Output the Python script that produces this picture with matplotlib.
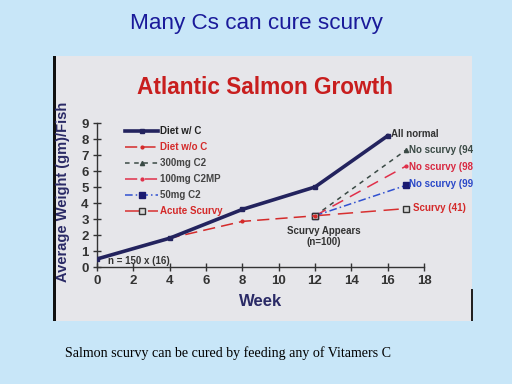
import matplotlib.pyplot as plt
from matplotlib.patches import Rectangle

weeks_c = [0, 4, 8, 12, 16]
diet_c = [0.5, 1.8, 3.6, 5.0, 8.2]
weeks_noc = [0, 4, 8, 12]
diet_noc = [0.5, 1.8, 2.85, 3.2]
weeks_cure = [12, 17]
c2_300 = [3.2, 7.3]
c2mp_100 = [3.2, 6.3]
c2_50 = [3.2, 5.1]
acute = [3.2, 3.65]

end_labels = ["All normal", "No scurvy (94", "No scurvy (98", "No scurvy (99", "Scurvy (41)"]

fig = plt.figure(figsize=(5.12, 3.84), dpi=100)
fig.patch.set_facecolor("#c8e6f8")

# scanned panel
fig.patches.append(Rectangle((53 / 512, 1 - 321 / 384), (472 - 53) / 512, (321 - 56) / 384,
                             transform=fig.transFigure, facecolor="#e6e6ea", edgecolor="none", zorder=-10))
fig.patches.append(Rectangle((53 / 512, 1 - 321 / 384), 3 / 512, (321 - 56) / 384,
                             transform=fig.transFigure, facecolor="#111111", edgecolor="none", zorder=-9))
fig.patches.append(Rectangle((471 / 512, 1 - 321 / 384), 1.5 / 512, 32 / 384,
                             transform=fig.transFigure, facecolor="#222222", edgecolor="none", zorder=-9))

fig.text(0.5, 1 - 24 / 384, "Many Cs can cure scurvy", ha="center", va="center",
         fontsize=16.2, color="#1a1a9a", family="Liberation Sans")
fig.text(265 / 512, 1 - 88 / 384, "Atlantic Salmon Growth", ha="center", va="center",
         fontsize=16.3, color="#c81e1e", fontweight="bold", family="Liberation Sans")
fig.text(65 / 512, 1 - 353 / 384, "Salmon scurvy can be cured by feeding any of Vitamers C",
         ha="left", va="center", fontsize=10.1, color="black", family="Liberation Serif")

ax = fig.add_axes([97 / 512, 1 - 267 / 384, (424 - 97) / 512, (267 - 123) / 384])
ax.set_facecolor("none")
ax.set_zorder(5)

ax.plot(weeks_c, diet_c, color="#23235e", lw=2.6, marker="s", ms=3.5, label="Diet w/ C", zorder=5)
ax.plot(weeks_noc, diet_noc, color="#d42a2a", lw=1.1, ls=(0, (8, 4)), marker="o", ms=2,
        label="Diet w/o C", zorder=4)
ax.plot(weeks_cure, c2_300, color="#3a4a45", lw=1.1, ls=(0, (3, 3)), marker="^", ms=3,
        label="300mg C2")
ax.plot(weeks_cure, c2mp_100, color="#e0304a", lw=1.1, ls=(0, (8, 5)), marker="o", ms=2,
        label="100mg C2MP")
ax.plot(weeks_cure, c2_50, color="#3050d0", lw=1.1, ls=(0, (5, 2, 1, 2)), marker="s", ms=4,
        mfc="#1a1a70", mec="#1a1a70", label="50mg C2")
ax.plot(weeks_cure, acute, color="#d83030", lw=1.1, ls=(0, (10, 5)), marker="s", ms=4,
        mfc="#d8d8d8", mec="#333333", label="Acute Scurvy")

ax.set_xlim(0, 18)
ax.set_ylim(0, 9)
ax.set_xticks(range(0, 19, 2))
ax.set_yticks(range(0, 10))
for s in ["top", "right"]:
    ax.spines[s].set_visible(False)
for s in ["left", "bottom"]:
    ax.spines[s].set_color("#333333")
    ax.spines[s].set_linewidth(1.0)
ax.tick_params(direction="inout", length=6, width=1, color="#333333",
               labelsize=9.5, labelcolor="#333333", pad=3)
for t in ax.get_xticklabels() + ax.get_yticklabels():
    t.set_fontweight("bold")
    t.set_family("Liberation Sans")

ax.set_xlabel("Week", fontsize=12, fontweight="bold", color="#2a2a66", family="Liberation Sans",
              labelpad=5)
ax.set_ylabel("Average Weight (gm)/Fish", fontsize=10.5, fontweight="bold", color="#2a2a66",
              family="Liberation Sans")
ax.yaxis.set_label_coords(-0.082, 0.52)

leg = ax.legend(loc="upper left", bbox_to_anchor=(0.06, 1.04), frameon=False, handlelength=3.4,
                handletextpad=0.2, labelspacing=0.62, prop={"family": "Liberation Sans", "size": 7,
                                                            "weight": "bold"})
leg_colors = ["#222222", "#d42a2a", "#444444", "#444444", "#444444", "#d42a2a"]
for t, c in zip(leg.get_texts(), leg_colors):
    t.set_color(c)

small = {"family": "Liberation Sans", "fontsize": 7, "fontweight": "bold"}
ax.text(0.6, 0.05, "n = 150 x (16)", color="#333333", va="bottom", **small)
ax.text(12.5, 2.55, "Scurvy Appears\n(n=100)", color="#333333", ha="center", va="top",
        linespacing=1.1, **small)
ax.text(16.2, 8.3, end_labels[0], color="#333333", va="center", clip_on=False, **small)
ax.text(17.15, 7.3, end_labels[1], color="#3a4a45", va="center", clip_on=False, **small)
ax.text(17.15, 6.25, end_labels[2], color="#d82840", va="center", clip_on=False, **small)
ax.text(17.15, 5.2, end_labels[3], color="#2a48c8", va="center", clip_on=False, **small)
ax.text(17.4, 3.7, end_labels[4], color="#d42a2a", va="center", clip_on=False, **small)

fig.savefig("out.png", dpi=100, facecolor=fig.get_facecolor())
